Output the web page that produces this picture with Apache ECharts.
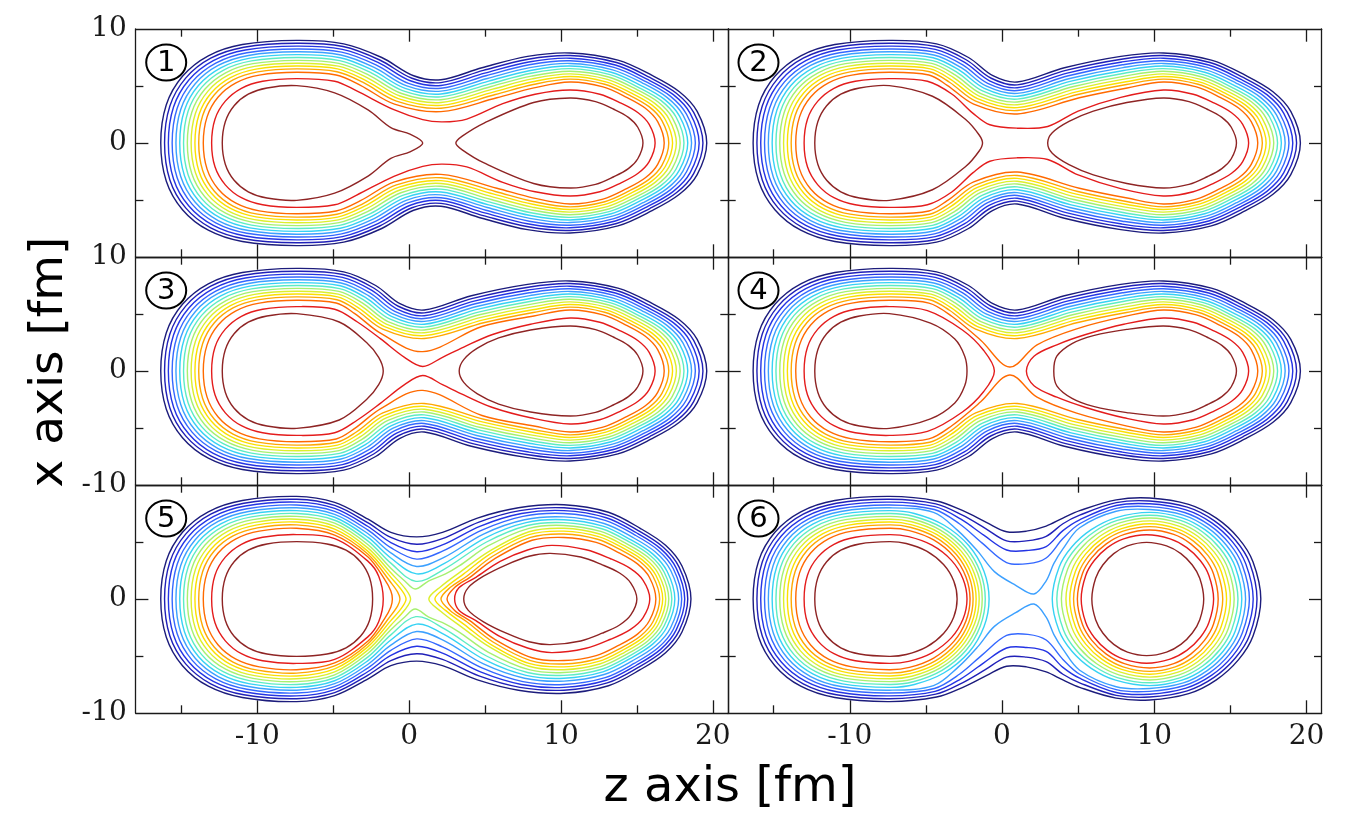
<!DOCTYPE html>
<html>
<head>
<meta charset="utf-8">
<script src="https://cdn.jsdelivr.net/npm/echarts@6/dist/echarts.min.js"></script>
<style>
html,body{margin:0;padding:0;background:#fff;}
#chart{width:1352px;height:821px;}
</style>
</head>
<body>
<div id="chart"></div>
<script>
// ---- contour levels: 1 = outermost (lowest density) ... 14 = innermost ----
const levelColors = ['#1c1c7c','#2020b8','#2434e4','#3468ff','#3ca0ff','#36d2f4','#5cecc4',
                     '#a6f070','#dcef2c','#fbe000','#ffa800','#ff6a00','#e41c1c','#8e2424'];

// axis ticks and labels
const zTicksMajor = [-10, 0, 10, 20];
const zTicksMinor = [-15, -5, 5, 15];
const xTicksMajor = [0];
const xTicksMinor = [-5, 5];
const zLabels = [-10, 0, 10, 20];
const xLabelsByRow = [[0, 10], [-10, 0, 10], [-10, 0]];
const panelNumbers = ['1', '2', '3', '4', '5', '6'];

// Every contour is symmetric in x, so only the upper half (x >= 0) is listed,
// as flat [z, x, z, x, ...] runs that start and end on the z axis.

// left lobe, from the left tip up to the crest at z = -7.4 (levels 1..14)
const LEFT_ARC = [
  [-16.35,0, -15.99,3.33, -14.92,5.85, -13.22,7.65, -10.98,8.64, -7.4,9.0],
  [-16.1,0, -15.75,3.24, -14.71,5.69, -13.06,7.44, -10.88,8.4, -7.4,8.75],
  [-15.85,0, -15.51,3.15, -14.5,5.53, -12.89,7.23, -10.78,8.16, -7.4,8.5],
  [-15.6,0, -15.27,3.05, -14.29,5.36, -12.73,7.01, -10.68,7.92, -7.4,8.25],
  [-15.35,0, -15.03,2.96, -14.08,5.2, -12.57,6.8, -10.58,7.68, -7.4,8.0],
  [-15.1,0, -14.79,2.87, -13.87,5.04, -12.4,6.59, -10.48,7.44, -7.4,7.75],
  [-14.85,0, -14.55,2.78, -13.66,4.88, -12.24,6.38, -10.38,7.2, -7.4,7.5],
  [-14.6,0, -14.31,2.68, -13.45,4.71, -12.08,6.16, -10.28,6.96, -7.4,7.25],
  [-14.35,0, -14.07,2.59, -13.24,4.55, -11.92,5.95, -10.18,6.72, -7.4,7.0],
  [-14.1,0, -13.83,2.5, -13.03,4.39, -11.76,5.74, -10.08,6.48, -7.4,6.75],
  [-13.85,0, -13.59,2.41, -12.82,4.23, -11.59,5.53, -9.98,6.24, -7.4,6.5],
  [-13.55,0, -13.3,2.29, -12.57,4.03, -11.4,5.27, -9.86,5.95, -7.4,6.2],
  [-13.0,0, -12.78,2.09, -12.1,3.67, -11.04,4.8, -9.64,5.42, -7.4,5.65],
  [-12.3,0, -12.1,1.86, -11.52,3.27, -10.59,4.28, -9.36,4.83, -7.4,5.03]
];

// right lobe of panels 1-4, from the crest at z = 10.6 to the right tip
const RIGHT_ARC_A = [
  [10.6,7.9, 13.75,7.27, 16.0,5.93, 17.8,4.5, 18.97,2.77, 19.6,0],
  [10.6,7.67, 13.66,7.06, 15.85,5.75, 17.6,4.37, 18.74,2.68, 19.35,0],
  [10.6,7.44, 13.58,6.84, 15.7,5.58, 17.4,4.24, 18.51,2.6, 19.1,0],
  [10.6,7.21, 13.49,6.63, 15.55,5.41, 17.2,4.11, 18.27,2.52, 18.85,0],
  [10.6,6.98, 13.4,6.42, 15.4,5.24, 17.0,3.98, 18.04,2.44, 18.6,0],
  [10.6,6.75, 13.31,6.21, 15.25,5.06, 16.8,3.85, 17.81,2.36, 18.35,0],
  [10.6,6.52, 13.23,6.0, 15.1,4.89, 16.6,3.72, 17.58,2.28, 18.1,0],
  [10.6,6.29, 13.14,5.79, 14.95,4.72, 16.4,3.59, 17.34,2.2, 17.85,0],
  [10.6,6.06, 13.05,5.58, 14.8,4.55, 16.2,3.45, 17.11,2.12, 17.6,0],
  [10.6,5.83, 12.96,5.36, 14.65,4.37, 16.0,3.32, 16.88,2.04, 17.35,0],
  [10.6,5.6, 12.88,5.15, 14.5,4.2, 15.8,3.19, 16.65,1.96, 17.1,0],
  [10.6,5.35, 12.77,4.92, 14.32,4.01, 15.56,3.05, 16.37,1.87, 16.8,0],
  [10.6,4.65, 12.56,4.28, 13.96,3.49, 15.08,2.65, 15.81,1.63, 16.2,0],
  [10.6,3.95, 12.28,3.63, 13.48,2.96, 14.44,2.25, 15.06,1.38, 15.4,0]
];

// panel 1: neck between the two crests, levels 1-12
const NECK_1 = [
  [-4.3,8.7, -1.8,7.5, 0.3,5.9, 2.1,5.55, 4.8,6.6, 7.8,7.6],
  [-4.35,8.46, -1.93,7.28, 0.19,5.68, 2.1,5.3, 4.89,6.37, 7.84,7.35],
  [-4.39,8.21, -2.05,7.07, 0.08,5.46, 2.1,5.05, 4.98,6.13, 7.88,7.11],
  [-4.44,7.97, -2.18,6.85, -0.04,5.23, 2.1,4.8, 5.06,5.9, 7.91,6.86],
  [-4.48,7.72, -2.3,6.63, -0.15,5.01, 2.1,4.55, 5.15,5.66, 7.95,6.61],
  [-4.53,7.48, -2.43,6.41, -0.26,4.79, 2.1,4.3, 5.24,5.43, 7.99,6.36],
  [-4.57,7.23, -2.55,6.2, -0.38,4.57, 2.1,4.05, 5.33,5.19, 8.03,6.12],
  [-4.62,6.99, -2.68,5.98, -0.49,4.34, 2.1,3.8, 5.41,4.96, 8.06,5.87],
  [-4.66,6.74, -2.8,5.76, -0.6,4.12, 2.1,3.55, 5.5,4.72, 8.1,5.62],
  [-4.71,6.5, -2.93,5.54, -0.71,3.9, 2.1,3.3, 5.59,4.49, 8.14,5.37],
  [-4.75,6.25, -3.05,5.33, -0.83,3.68, 2.1,3.05, 5.68,4.25, 8.18,5.13],
  [-4.8,5.96, -3.2,5.06, -0.96,3.41, 2.1,2.75, 5.78,3.97, 8.22,4.83]
];

// panels 2-4: neck between the two crests, levels 1-11
const NECK_234 = [
  [-4.3,8.7, -2.2,7.5, -0.6,5.9, 1.0,5.35, 4.1,6.6, 7.8,7.6],
  [-4.35,8.46, -2.33,7.28, -0.71,5.68, 1.0,5.1, 4.19,6.37, 7.84,7.35],
  [-4.39,8.21, -2.45,7.07, -0.82,5.46, 1.0,4.85, 4.28,6.13, 7.88,7.11],
  [-4.44,7.97, -2.58,6.85, -0.94,5.23, 1.0,4.6, 4.36,5.9, 7.91,6.86],
  [-4.48,7.72, -2.7,6.63, -1.05,5.01, 1.0,4.35, 4.45,5.66, 7.95,6.61],
  [-4.53,7.48, -2.83,6.41, -1.16,4.79, 1.0,4.1, 4.54,5.43, 7.99,6.36],
  [-4.57,7.23, -2.95,6.2, -1.28,4.57, 1.0,3.85, 4.63,5.19, 8.03,6.12],
  [-4.62,6.99, -3.08,5.98, -1.39,4.34, 1.0,3.6, 4.71,4.96, 8.06,5.87],
  [-4.66,6.74, -3.2,5.76, -1.5,4.12, 1.0,3.35, 4.8,4.72, 8.1,5.62],
  [-4.71,6.5, -3.33,5.54, -1.61,3.9, 1.0,3.1, 4.89,4.49, 8.14,5.37],
  [-4.75,6.25, -3.45,5.33, -1.73,3.68, 1.0,2.85, 4.98,4.25, 8.18,5.13]
];

// inner levels around the neck, panels 1-4
const P1_RED = [-4.9,5.42, -3.48,4.59, -1.0,2.92, 0.9,2.05, 2.2,1.85, 3.8,2.1, 6.17,3.45, 8.3,4.28];
const P1_CORE_L = [-4.9,4.4, -2.7,2.9, -1.2,1.35, 0.1,0.75, 0.9,0];
const P1_CORE_R = [3.08,0, 3.5,0.6, 4.94,1.75, 8.2,3.55];

const P2_L12 = [-4.8,5.96, -3.6,5.06, -1.86,3.41, 1.0,2.55, 5.08,3.97, 8.22,4.83];
const P2_RED = [-4.9,5.42, -3.3,4.3, -1.9,2.6, -0.8,1.6, 1.0,1.3, 3.0,1.45, 5.0,2.8, 7.8,4.0];
const P2_CORE_L = [-4.57,4.1, -2.37,2.04, -1.5,0.7, -1.28,0];
const P2_CORE_R = [3.0,0, 3.3,0.9, 4.4,1.9, 6.0,2.8, 8.2,3.55];

const P3_L12 = [-4.8,5.96, -3.6,5.06, -1.86,3.3, 0.9,1.7, 4.8,3.9, 8.22,4.83];
const P3_RED = [-4.9,5.42, -3.4,4.3, -1.87,2.82, -0.3,1.2, 0.9,0.4, 2.2,1.2, 3.6,2.1, 5.5,3.2, 8.0,4.1];
const P3_CORE_L = [-4.6,4.3, -2.8,2.5, -2.0,1.2, -1.7,0];
const P3_CORE_R = [3.3,0, 3.6,1.0, 4.5,2.0, 5.9,2.9, 8.0,3.6];

const P4_L12 = [-4.8,5.96, -3.3,4.8, -1.4,2.7, 0.5,0.35, 2.3,2.3, 4.9,3.7, 8.22,4.83];
const P4_RED_L = [-4.9,5.3, -2.6,3.6, -1.2,1.8, -0.5,0];
const P4_RED_R = [1.6,0, 2.1,1.3, 3.6,2.3, 5.5,3.2, 8.0,4.1];
const P4_CORE_L = [-4.7,4.2, -3.1,2.8, -2.45,1.3, -2.3,0];
const P4_CORE_R = [3.4,0, 3.6,1.3, 4.6,2.4, 6.0,3.1, 8.2,3.65];

// panel 5: levels 1-8 run through the neck (8 crosses itself near z = 0.4), 9-14 split
const NECK_5 = [
  [-4.9,8.47, -2.7,7.0, -1.2,5.85, 0.5,5.45, 2.2,5.85, 4.5,7.1, 7.2,8.0],
  [-4.9,8.21, -2.7,6.68, -1.2,5.4, 0.5,4.8, 2.2,5.3, 4.6,6.75, 7.3,7.75],
  [-4.9,7.95, -2.7,6.36, -1.2,4.95, 0.5,4.15, 2.2,4.75, 4.7,6.4, 7.4,7.5],
  [-4.9,7.69, -2.7,6.04, -1.2,4.5, 0.5,3.5, 2.2,4.2, 4.8,6.05, 7.5,7.25],
  [-4.9,7.43, -2.7,5.72, -1.2,4.05, 0.5,2.85, 2.3,3.65, 4.9,5.7, 7.6,6.95],
  [-4.9,7.17, -2.7,5.4, -1.2,3.6, 0.5,2.2, 2.3,3.1, 5.0,5.35, 7.7,6.7],
  [-4.9,6.91, -2.7,5.08, -1.2,3.15, 0.45,1.55, 2.3,2.6, 5.1,5.0, 7.8,6.45],
  [-4.9,6.65, -2.7,4.76, -1.2,2.7, -0.3,1.6, 0.4,0.88, 1.3,1.6, 2.4,2.2, 3.3,2.9, 5.2,4.65, 7.9,6.2]
];
const LOBE5_LEFT_END = [   // levels 9-14, from the crest down to the tip near the neck
  [-4.9,6.39, -2.7,4.46, -1.2,2.3, -0.25,0.9, 0.1,0],
  [-4.9,6.13, -2.7,4.18, -1.2,1.9, -0.5,0.8, -0.2,0],
  [-4.9,5.87, -2.7,3.92, -1.2,1.45, -0.75,0.6, -0.6,0],
  [-4.9,5.61, -2.7,3.68, -1.6,1.7, -1.2,0.7, -1.1,0],
  [-4.9,5.3, -2.7,3.3, -2.0,2.0, -1.7,0],
  [-5.4,4.83, -4.15,4.28, -3.2,3.27, -2.6,1.86, -2.4,0]
];
const LOBE5_RIGHT_START = [ // levels 9-14, from the tip near the neck up toward the crest
  [1.3,0, 2.1,1.1, 3.4,2.4, 5.3,4.2, 7.9,5.9],
  [1.7,0, 2.4,1.0, 3.6,2.2, 5.4,4.0, 7.9,5.65],
  [2.1,0, 2.7,1.0, 3.8,2.0, 5.5,3.75, 8.0,5.4],
  [2.5,0, 3.0,1.0, 4.0,1.9, 5.6,3.5, 8.1,5.15],
  [3.0,0, 3.3,1.0, 4.4,1.9, 6.0,3.3, 7.8,4.3],
  [3.6,0, 3.9,1.0, 4.9,2.0, 6.4,3.0, 7.9,3.75]
];
const RIGHT_ARC_5 = [
  [10.2,8.27, 13.13,7.61, 15.22,6.2, 16.89,4.71, 17.97,2.89, 18.56,0],
  [10.2,8.0, 13.05,7.36, 15.09,6.0, 16.72,4.56, 17.78,2.8, 18.35,0],
  [10.2,7.75, 12.98,7.13, 14.97,5.81, 16.56,4.42, 17.59,2.71, 18.15,0],
  [10.2,7.5, 12.91,6.9, 14.85,5.63, 16.4,4.28, 17.41,2.63, 17.95,0],
  [10.2,7.2, 12.84,6.62, 14.73,5.4, 16.24,4.1, 17.22,2.52, 17.75,0],
  [10.2,6.95, 12.76,6.39, 14.58,5.21, 16.04,3.96, 16.99,2.43, 17.5,0],
  [10.2,6.7, 12.69,6.16, 14.46,5.03, 15.88,3.82, 16.8,2.35, 17.3,0],
  [10.2,6.45, 12.62,5.93, 14.34,4.84, 15.72,3.68, 16.62,2.26, 17.1,0],
  [10.2,6.2, 12.55,5.7, 14.22,4.65, 15.56,3.53, 16.43,2.17, 16.9,0],
  [10.2,5.95, 12.48,5.47, 14.1,4.46, 15.4,3.39, 16.25,2.08, 16.7,0],
  [10.2,5.7, 12.41,5.24, 13.98,4.28, 15.24,3.25, 16.06,2.0, 16.5,0],
  [10.2,5.4, 12.32,4.97, 13.83,4.05, 15.04,3.08, 15.83,1.89, 16.25,0],
  [9.4,4.7, 11.66,4.32, 13.27,3.53, 14.56,2.68, 15.4,1.65, 15.85,0],
  [9.3,4.0, 11.3,3.68, 12.72,3.0, 13.86,2.28, 14.6,1.4, 15.0,0]
];

// panel 6: levels 1-5 run through the neck (5 almost pinches), 6-14 split
const NECK_6 = [
  [-4.3,8.6, -2.5,7.7, -1.0,6.7, 0.3,5.9, 1.6,5.95, 2.9,6.4, 4.0,7.1, 5.1,7.75, 7.5,8.7],
  [-4.35,8.35, -2.6,7.35, -1.1,6.2, 0.3,5.1, 1.6,5.1, 2.9,5.5, 4.0,6.6, 5.1,7.35, 7.5,8.45],
  [-4.4,8.1, -2.7,7.0, -1.2,5.6, 0.3,4.3, 1.6,4.25, 2.9,4.6, 4.0,6.0, 5.1,6.95, 7.5,8.2],
  [-4.45,7.85, -2.8,6.6, -1.3,4.9, 0.3,3.2, 1.7,3.1, 2.9,3.6, 4.0,5.3, 5.1,6.6, 7.5,7.95],
  [-4.5,7.6, -2.9,6.0, -1.6,4.2, -0.5,2.4, 0.9,1.2, 2.1,0.44, 2.9,1.6, 3.4,3.1, 4.0,4.4, 5.1,6.25, 7.5,7.7]
];
const LOBE6_LEFT_END = [   // levels 6-14
  [-5.76,7.5, -3.8,6.47, -2.16,4.65, -1.18,2.42, -0.85,0],
  [-5.83,7.26, -3.94,6.26, -2.36,4.5, -1.42,2.34, -1.1,0],
  [-5.88,7.02, -4.05,6.05, -2.52,4.35, -1.6,2.26, -1.3,0],
  [-5.93,6.78, -4.16,5.85, -2.68,4.2, -1.8,2.18, -1.5,0],
  [-5.98,6.53, -4.27,5.64, -2.84,4.05, -1.99,2.11, -1.7,0],
  [-6.03,6.29, -4.38,5.43, -3.0,3.9, -2.18,2.03, -1.9,0],
  [-6.08,6.0, -4.49,5.18, -3.16,3.72, -2.37,1.93, -2.1,0],
  [-6.13,5.47, -4.6,4.72, -3.32,3.39, -2.56,1.76, -2.3,0],
  [-6.29,4.87, -4.95,4.2, -3.84,3.02, -3.17,1.57, -2.95,0]
];
const LOBE6_RIGHT_START = [ // levels 6-14
  [3.3,0, 3.75,2.79, 4.58,4.56, 5.86,6.08, 7.46,7.12],
  [3.6,0, 4.03,2.7, 4.82,4.41, 6.04,5.88, 7.57,6.89],
  [3.9,0, 4.31,2.61, 5.06,4.26, 6.22,5.68, 7.67,6.65],
  [4.2,0, 4.59,2.51, 5.3,4.11, 6.4,5.48, 7.78,6.42],
  [4.45,0, 4.82,2.42, 5.5,3.96, 6.55,5.28, 7.86,6.18],
  [4.7,0, 5.05,2.33, 5.7,3.81, 6.7,5.08, 7.95,5.95],
  [4.95,0, 5.28,2.22, 5.9,3.63, 6.85,4.84, 8.04,5.67],
  [5.2,0, 5.5,2.07, 6.06,3.38, 6.92,4.51, 7.99,5.28],
  [5.9,0, 6.15,1.82, 6.62,2.98, 7.34,3.98, 8.24,4.66]
];
const RIGHT_ARC_6 = [
  [9.7,8.86, 12.26,8.3, 14.08,7.09, 15.54,5.32, 16.49,3.25, 17.0,0],
  [9.7,8.6, 12.17,8.06, 13.93,6.88, 15.34,5.16, 16.27,3.16, 16.75,0],
  [9.7,8.35, 12.08,7.82, 13.78,6.68, 15.14,5.01, 16.02,3.06, 16.5,0],
  [9.7,8.1, 11.99,7.59, 13.63,6.48, 14.94,4.86, 15.79,2.97, 16.25,0],
  [9.7,7.85, 11.91,7.36, 13.48,6.28, 14.74,4.71, 15.56,2.88, 16.0,0],
  [9.7,7.6, 11.82,7.12, 13.33,6.08, 14.54,4.56, 15.33,2.79, 15.75,0],
  [9.7,7.35, 11.73,6.89, 13.18,5.88, 14.34,4.41, 15.09,2.7, 15.5,0],
  [9.7,7.1, 11.64,6.65, 13.03,5.68, 14.14,4.26, 14.86,2.61, 15.25,0],
  [9.7,6.85, 11.56,6.42, 12.88,5.48, 13.94,4.11, 14.63,2.51, 15.0,0],
  [9.7,6.6, 11.47,6.18, 12.73,5.28, 13.74,3.96, 14.4,2.42, 14.75,0],
  [9.7,6.35, 11.38,5.95, 12.58,5.08, 13.54,3.81, 14.16,2.33, 14.5,0],
  [9.7,6.05, 11.28,5.67, 12.4,4.84, 13.3,3.63, 13.89,2.22, 14.2,0],
  [9.5,5.64, 11.04,5.28, 12.14,4.51, 13.02,3.38, 13.59,2.07, 13.9,0],
  [9.5,4.97, 10.81,4.66, 11.75,3.98, 12.5,2.98, 12.99,1.82, 13.25,0]
];

// ---- assemble the contour pieces of each panel: [level, upper-half run] ----
function piece(level, ...parts) { return [level, [].concat(...parts)]; }
function through(necks, rights, count) {
  const out = [];
  for (let k = 0; k < count; k++) out.push(piece(k + 1, LEFT_ARC[k], necks[k], rights[k]));
  return out;
}
function splitLobes(list, first, lefts, rights, rightArcs) {
  for (let i = 0; i < lefts.length; i++) {
    const k = first + i;
    list.push(piece(k + 1, LEFT_ARC[k], lefts[i]));
    list.push(piece(k + 1, rights[i], rightArcs[k]));
  }
  return list;
}

const panels = [
  through(NECK_1, RIGHT_ARC_A, 12).concat([
    piece(13, LEFT_ARC[12], P1_RED, RIGHT_ARC_A[12]),
    piece(14, LEFT_ARC[13], P1_CORE_L),
    piece(14, P1_CORE_R, RIGHT_ARC_A[13])
  ]),
  through(NECK_234, RIGHT_ARC_A, 11).concat([
    piece(12, LEFT_ARC[11], P2_L12, RIGHT_ARC_A[11]),
    piece(13, LEFT_ARC[12], P2_RED, RIGHT_ARC_A[12]),
    piece(14, LEFT_ARC[13], P2_CORE_L),
    piece(14, P2_CORE_R, RIGHT_ARC_A[13])
  ]),
  through(NECK_234, RIGHT_ARC_A, 11).concat([
    piece(12, LEFT_ARC[11], P3_L12, RIGHT_ARC_A[11]),
    piece(13, LEFT_ARC[12], P3_RED, RIGHT_ARC_A[12]),
    piece(14, LEFT_ARC[13], P3_CORE_L),
    piece(14, P3_CORE_R, RIGHT_ARC_A[13])
  ]),
  through(NECK_234, RIGHT_ARC_A, 11).concat([
    piece(12, LEFT_ARC[11], P4_L12, RIGHT_ARC_A[11]),
    piece(13, LEFT_ARC[12], P4_RED_L),
    piece(13, P4_RED_R, RIGHT_ARC_A[12]),
    piece(14, LEFT_ARC[13], P4_CORE_L),
    piece(14, P4_CORE_R, RIGHT_ARC_A[13])
  ]),
  splitLobes(through(NECK_5, RIGHT_ARC_5, 8), 8, LOBE5_LEFT_END, LOBE5_RIGHT_START, RIGHT_ARC_5),
  splitLobes(through(NECK_6, RIGHT_ARC_6, 5), 5, LOBE6_LEFT_END, LOBE6_RIGHT_START, RIGHT_ARC_6)
];

// close an upper-half run into a full loop, mirrored in x
function loopOf(flat) {
  const up = [];
  for (let i = 0; i < flat.length; i += 2) up.push([flat[i], flat[i + 1]]);
  const low = up.slice(1, -1).reverse().map(p => [p[0], -p[1]]);
  return up.concat(low);
}

// ---- layout: 3 rows x 2 columns of panels ----
const colLeft = [135.7, 728];
const colWidth = [592.3, 593.7];
const rowTop = [29, 257, 485];
const rowHeight = 228;
const INK = '#1a1a1a';

const grids = [], xAxes = [], yAxes = [], series = [], graphics = [];

function axisDef(kind, g, pos, ticks, len, labels) {
  return {
    type: 'value', gridIndex: g, position: pos,
    min: kind === 'x' ? -18 : -10, max: kind === 'x' ? 21 : 10,
    axisLine: { show: len > 10, onZero: false, lineStyle: { color: INK, width: 1.3 } },
    axisTick: { show: true, inside: true, length: len, customValues: ticks, lineStyle: { color: INK, width: 1.3 } },
    axisLabel: labels ? {
      show: true, customValues: labels, margin: kind === 'x' ? 10 : 9, color: INK,
      fontFamily: 'DejaVu Serif', fontSize: 28
    } : { show: false },
    splitLine: { show: false }
  };
}

// one closed contour per series: the points go through the panel's axes
// and are joined by a smooth closed curve
function contourSeries(xi, yi, level, loop) {
  return {
    type: 'custom', xAxisIndex: xi, yAxisIndex: yi,
    data: loop, silent: true, animation: false, z: 2,
    renderItem: function (params, api) {
      if (params.dataIndex !== 0) return null;
      const pts = loop.map(function (p) { return api.coord(p); });
      return {
        type: 'polygon',
        shape: { points: pts, smooth: 0.34 },
        style: { fill: 'none', stroke: levelColors[level - 1], lineWidth: 1.4 }
      };
    }
  };
}

for (let p = 0; p < 6; p++) {
  const row = Math.floor(p / 2), col = p % 2;
  const left = colLeft[col], top = rowTop[row];
  grids.push({ left: left, top: top, width: colWidth[col], height: rowHeight, outerBoundsMode: 'none' });

  const xi = xAxes.length, yi = yAxes.length;
  xAxes.push(axisDef('x', p, 'bottom', zTicksMajor, 12.7, row === 2 ? zLabels : null));
  xAxes.push(axisDef('x', p, 'bottom', zTicksMinor, 7.7, null));
  xAxes.push(axisDef('x', p, 'top', zTicksMajor, 12.7, null));
  xAxes.push(axisDef('x', p, 'top', zTicksMinor, 7.7, null));
  yAxes.push(axisDef('y', p, 'left', xTicksMajor, 12.7, col === 0 ? xLabelsByRow[row] : null));
  yAxes.push(axisDef('y', p, 'left', xTicksMinor, 7.7, null));
  yAxes.push(axisDef('y', p, 'right', xTicksMajor, 12.7, null));
  yAxes.push(axisDef('y', p, 'right', xTicksMinor, 7.7, null));

  panels[p].forEach(function (pc) {
    series.push(contourSeries(xi, yi, pc[0], loopOf(pc[1])));
  });

  // circled panel number
  const cx = left + 30.5, cy = top + 33.5;
  graphics.push({ type: 'ellipse', shape: { cx: cx, cy: cy, rx: 20, ry: 18 },
    style: { fill: 'rgba(0,0,0,0)', stroke: '#000', lineWidth: 2 }, z: 10 });
  graphics.push({ type: 'text', x: cx, y: cy + 1,
    style: { text: panelNumbers[p], fill: '#000', font: '29px "DejaVu Sans"', align: 'center', verticalAlign: 'middle' }, z: 10 });
}

// axis titles
graphics.push({ type: 'text', x: 50, y: 362, rotation: Math.PI / 2,
  style: { text: 'x axis [fm]', fill: '#000', font: '47px "DejaVu Sans"', align: 'center', verticalAlign: 'middle' } });
graphics.push({ type: 'text', x: 730, y: 789,
  style: { text: 'z axis [fm]', fill: '#000', font: '48px "DejaVu Sans"', align: 'center', verticalAlign: 'middle' } });

const chart = echarts.init(document.getElementById('chart'), null, { renderer: 'canvas' });
chart.setOption({
  animation: false,
  backgroundColor: '#fff',
  grid: grids,
  xAxis: xAxes,
  yAxis: yAxes,
  series: series,
  graphic: graphics
});
</script>
</body>
</html>
